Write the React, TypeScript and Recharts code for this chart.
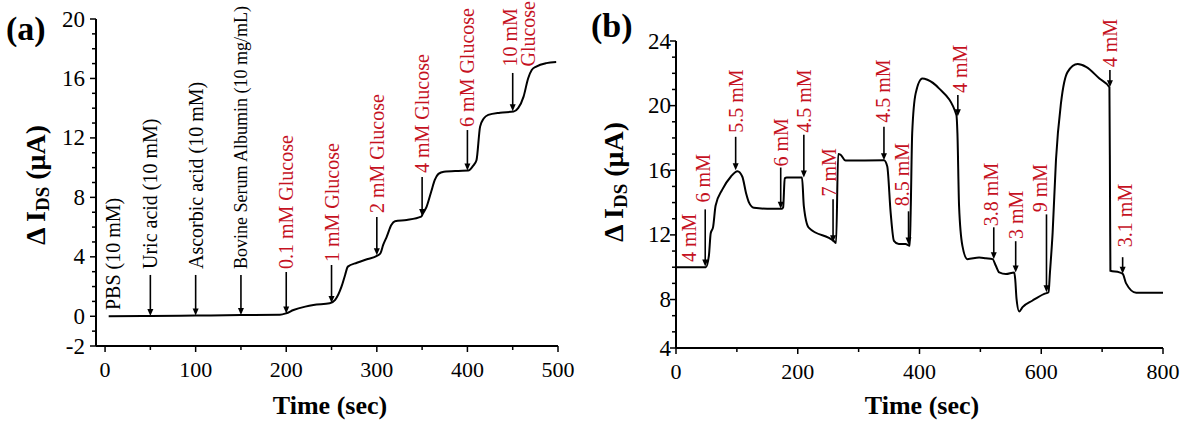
import React from 'react';
import { Line, LineChart, ReferenceDot, ReferenceLine, XAxis, YAxis } from 'recharts';

const SERIF = '"Liberation Serif", "Times New Roman", Times, serif';
const RED = '#c5121f';

// (a) interferents first, then stepwise glucose additions
const timeA = [4, 50, 100, 150, 193, 200, 208, 221, 230, 248, 254, 261, 265, 268, 278, 290, 300, 304, 307, 311, 316, 320, 333, 349, 351, 355, 360, 364, 368, 374, 390, 401, 406, 410, 414, 418, 423, 436, 451, 456, 462, 467, 471, 476, 487, 498];
const currentA = [0, 0.02, 0.05, 0.08, 0.1, 0.2, 0.42, 0.65, 0.76, 0.87, 1.1, 1.99, 2.78, 3.34, 3.6, 3.85, 4.06, 4.24, 4.8, 5.36, 6.14, 6.4, 6.48, 6.7, 6.93, 7.38, 8.38, 9.17, 9.58, 9.73, 9.78, 9.8, 10.1, 10.5, 12.76, 13.3, 13.55, 13.7, 13.77, 14.0, 14.78, 16.0, 16.57, 16.8, 17.03, 17.1];

const arrowTimeA = [50, 100, 150, 200, 250, 300, 350, 400, 450];
const arrowTopA = [2.78, 2.78, 2.78, 2.98, 3.45, 6.68, 9.37, 12.53, 16.37];
const arrowEndA = [0.02, 0.05, 0.08, 0.18, 0.9, 4.1, 6.75, 9.8, 13.8];

const labelTextA = ['PBS (10 mM)', 'Uric acid (10 mM)', 'Ascorbic acid (10 mM)', 'Bovine Serum Albumin (10 mg/mL)', '0.1 mM Glucose', '1 mM Glucose', '2 mM Glucose', '4 mM Glucose', '6 mM Glucose', '10 mM\nGlucose'];
const labelTimeA = [8.8, 50, 100, 150, 200, 250, 300, 350, 400, 447];
const labelLevelA = [0.42, 3.18, 3.18, 3.18, 3.18, 3.65, 6.95, 9.64, 12.74, 16.8];
const labelRedA = [false, false, false, false, true, true, true, true, true, true];

const xTicksA = [0, 50, 100, 150, 200, 250, 300, 350, 400, 450, 500];
const xLabeledA = [0, 100, 200, 300, 400, 500];
const yTicksA = [-2, -1, 0, 1, 2, 3, 4, 5, 6, 7, 8, 9, 10, 11, 12, 13, 14, 15, 16, 17, 18, 19, 20];
const yLabeledA = [-2, 0, 4, 8, 12, 16, 20];
const yTextA = ['-2', '0', '4', '8', '12', '16', '20'];

// (b) real-time response to changing glucose levels
const timeB = [0, 49, 54, 57, 61, 65, 76, 90, 101, 109, 115, 120, 128, 150, 174, 176, 178.6, 182, 207, 210, 218, 259, 263, 266.4, 270, 278.5, 341.6, 347, 352.6, 358, 366, 377, 384, 385.5, 388, 393.7, 404.6, 413, 432, 460.6, 462.3, 465, 470.5, 478.7, 498, 509, 520, 525.4, 531, 542, 555.6, 557.2, 559.4, 563.8, 569.3, 585.8, 605, 612, 614.3, 618.7, 624.2, 632.4, 643.4, 659.8, 673.6, 695.5, 712, 713, 713.6, 728.4, 734, 739.4, 756, 800];
const currentB = [10, 10, 10.7, 12.1, 12.5, 13.8, 14.8, 15.6, 15.94, 15.6, 14.6, 14.0, 13.68, 13.62, 13.62, 13.7, 15.5, 15.55, 15.55, 13.78, 12.45, 11.63, 11.5, 17.0, 16.97, 16.6, 16.62, 16.25, 13.38, 11.63, 11.43, 11.43, 11.33, 13.38, 18.3, 20.76, 21.68, 21.6, 21.07, 19.43, 18.3, 13.78, 11.32, 10.5, 10.6, 10.55, 10.5, 10.09, 9.68, 9.58, 9.68, 9.27, 8.04, 7.26, 7.53, 7.94, 8.35, 8.45, 9.68, 12.14, 16.65, 20.15, 22.09, 22.57, 22.4, 21.68, 21.13, 14.2, 9.78, 9.68, 9.58, 9.0, 8.42, 8.42];

const arrowTimeB = [48, 98, 172, 210, 258, 341.6, 382, 463, 522, 558, 608.6, 712.8, 733.7];
const arrowTopB = [13.58, 18.07, 16.17, 18.2, 14.2, 18.69, 13.46, 20.66, 12.47, 11.61, 13.27, 22.2, 10.62];
const arrowEndB = [10.05, 16.0, 13.62, 15.55, 11.55, 16.62, 11.4, 19.35, 10.5, 9.68, 8.45, 21.13, 9.6];

const labelTextB = ['4 mM', '6 mM', '5.5 mM', '6 mM', '4.5 mM', '7 mM', '4.5 mM', '8.5 mM', '4 mM', '3.8 mM', '3 mM', '9 mM', '4 mM', '3.1 mM'];
const labelTimeB = [21, 45, 98, 172, 210.7, 251.9, 339.6, 372, 465.8, 518, 559.2, 597.5, 712.8, 737.4];
const labelLevelB = [10.32, 14.01, 18.32, 16.23, 18.32, 14.38, 18.94, 13.77, 20.78, 12.54, 11.74, 13.4, 22.38, 11.24];

const xTicksB = [0, 100, 200, 300, 400, 500, 600, 700, 800];
const xLabeledB = [0, 200, 400, 600, 800];
const yTicksB = [5, 6, 7, 8, 9, 10, 11, 12, 13, 14, 15, 16, 17, 18, 19, 20, 21, 22, 23, 24];
const yLabeledB = [5, 8, 12, 16, 20, 24];
const yTextB = ['4', '8', '12', '16', '20', '24'];

const dataA = timeA.map((t, i) => ({ t, v: currentA[i] }));
const dataB = timeB.map((t, i) => ({ t, v: currentB[i] }));

const xTick = (labeled: number[]) => (props: any) => {
  const { x, y, payload } = props;
  const major = labeled.includes(payload.value);
  return (
    <g>
      <line x1={x} y1={y} x2={x} y2={y + (major ? 6 : 4)} stroke="#000" strokeWidth={1.5} />
      {major && (
        <text x={x} y={y + 23} textAnchor="middle" dominantBaseline="central" fontFamily={SERIF} fontSize={22} fill="#000">
          {payload.value}
        </text>
      )}
    </g>
  );
};

const yTick = (labeled: number[], texts: string[], gap: number) => (props: any) => {
  const { x, y, payload } = props;
  const idx = labeled.indexOf(payload.value);
  const major = idx >= 0;
  return (
    <g>
      <line x1={x - (major ? 6 : 4)} y1={y} x2={x} y2={y} stroke="#000" strokeWidth={1.5} />
      {major && (
        <text x={x - gap} y={y} textAnchor="end" dominantBaseline="central" fontFamily={SERIF} fontSize={23} fill="#000">
          {texts[idx]}
        </text>
      )}
    </g>
  );
};

const Arrow = (props: any) => {
  const { x1, y1, x2, y2 } = props;
  return (
    <g>
      <line x1={x1} y1={y1} x2={x2} y2={y2 - 5} stroke="#000" strokeWidth={1.6} />
      <path d={`M${x2 - 3},${y2 - 7} L${x2 + 3},${y2 - 7} L${x2},${y2} Z`} fill="#000" />
    </g>
  );
};

const rotatedLabel = (text: string, color: string, size: number) => (p: any) => {
  const lines = text.split('\n');
  return (
    <text
      transform={`rotate(-90 ${p.cx} ${p.cy})`}
      x={p.cx}
      y={p.cy}
      fill={color}
      fontSize={size}
      fontFamily={SERIF}
      textAnchor="start"
      dominantBaseline="central"
    >
      {lines.map((l, i) => (
        <tspan key={i} x={p.cx} dy={i === 0 ? 0 : size * 0.9}>
          {l}
        </tspan>
      ))}
    </text>
  );
};

const yTitle = (cx: number, cy: number, tag: string, tagX: number, tagY: number) => () => (
  <g>
    <text
      transform={`translate(${cx},${cy}) rotate(-90)`}
      textAnchor="middle"
      dominantBaseline="central"
      fontFamily={SERIF}
      fontWeight="bold"
      fontSize={28}
      fill="#000"
    >
      Δ I<tspan fontSize={19} dy={7}>DS</tspan>
      <tspan dy={-7}> (μA)</tspan>
    </text>
    <text x={tagX} y={tagY} fontFamily={SERIF} fontWeight="bold" fontSize={34} fill="#000">
      {tag}
    </text>
  </g>
);

const xTitle = (cx: number, baseline: number) => () => (
  <text x={cx} y={baseline} textAnchor="middle" fontFamily={SERIF} fontWeight="bold" fontSize={26} fill="#000">
    Time (sec)
  </text>
);

const axisStroke = { stroke: '#000', strokeWidth: 2 };

export default function App() {
  return (
    <div style={{ position: 'absolute', left: 0, top: 0, width: 1193, height: 425, background: '#fff' }}>
      <div style={{ position: 'absolute', left: 0, top: 0 }}>
        <LineChart width={590} height={425} data={dataA} margin={{ top: 19, right: 32, bottom: 0, left: 0 }}>
          <XAxis
            dataKey="t"
            type="number"
            domain={[-10, 500]}
            ticks={xTicksA}
            interval={0}
            tickLine={false}
            tickSize={0}
            tickMargin={0}
            axisLine={axisStroke}
            tick={xTick(xLabeledA)}
            height={79}
            allowDataOverflow
            label={xTitle(330, 414)}
          />
          <YAxis
            type="number"
            domain={[-2, 20]}
            ticks={yTicksA}
            interval={0}
            tickLine={false}
            tickSize={0}
            tickMargin={0}
            axisLine={axisStroke}
            tick={yTick(yLabeledA, yTextA, 11)}
            width={96}
            allowDataOverflow
            label={yTitle(35, 185, '(a)', 6, 40)}
          />
          <Line dataKey="v" type="monotone" stroke="#000" strokeWidth={2} dot={false} isAnimationActive={false} />
          {arrowTimeA.map((t, i) => (
            <ReferenceLine
              key={`arA${i}`}
              segment={[{ x: t, y: arrowTopA[i] }, { x: t, y: arrowEndA[i] }]}
              shape={Arrow}
              ifOverflow="visible"
            />
          ))}
          {labelTextA.map((txt, i) => (
            <ReferenceDot
              key={`lbA${i}`}
              x={labelTimeA[i]}
              y={labelLevelA[i]}
              r={1}
              ifOverflow="visible"
              shape={rotatedLabel(txt, labelRedA[i] ? RED : '#000', i === 3 ? 18 : 20)}
            />
          ))}
        </LineChart>
      </div>
      <div style={{ position: 'absolute', left: 590, top: 0 }}>
        <LineChart width={603} height={425} data={dataB} margin={{ top: 41, right: 30, bottom: 0, left: 0 }}>
          <XAxis
            dataKey="t"
            type="number"
            domain={[0, 800]}
            ticks={xTicksB}
            interval={0}
            tickLine={false}
            tickSize={0}
            tickMargin={0}
            axisLine={axisStroke}
            tick={xTick(xLabeledB)}
            height={77}
            allowDataOverflow
            label={xTitle(332, 414)}
          />
          <YAxis
            type="number"
            domain={[5, 24]}
            ticks={yTicksB}
            interval={0}
            tickLine={false}
            tickSize={0}
            tickMargin={0}
            axisLine={axisStroke}
            tick={yTick(yLabeledB, yTextB, 5)}
            width={86}
            allowDataOverflow
            label={yTitle(23, 182, '(b)', 1, 37)}
          />
          <Line dataKey="v" type="monotone" stroke="#000" strokeWidth={2} dot={false} isAnimationActive={false} />
          {arrowTimeB.map((t, i) => (
            <ReferenceLine
              key={`arB${i}`}
              segment={[{ x: t, y: arrowTopB[i] }, { x: t, y: arrowEndB[i] }]}
              shape={Arrow}
              ifOverflow="visible"
            />
          ))}
          {labelTextB.map((txt, i) => (
            <ReferenceDot
              key={`lbB${i}`}
              x={labelTimeB[i]}
              y={labelLevelB[i]}
              r={1}
              ifOverflow="visible"
              shape={rotatedLabel(txt, RED, 20)}
            />
          ))}
        </LineChart>
      </div>
    </div>
  );
}
